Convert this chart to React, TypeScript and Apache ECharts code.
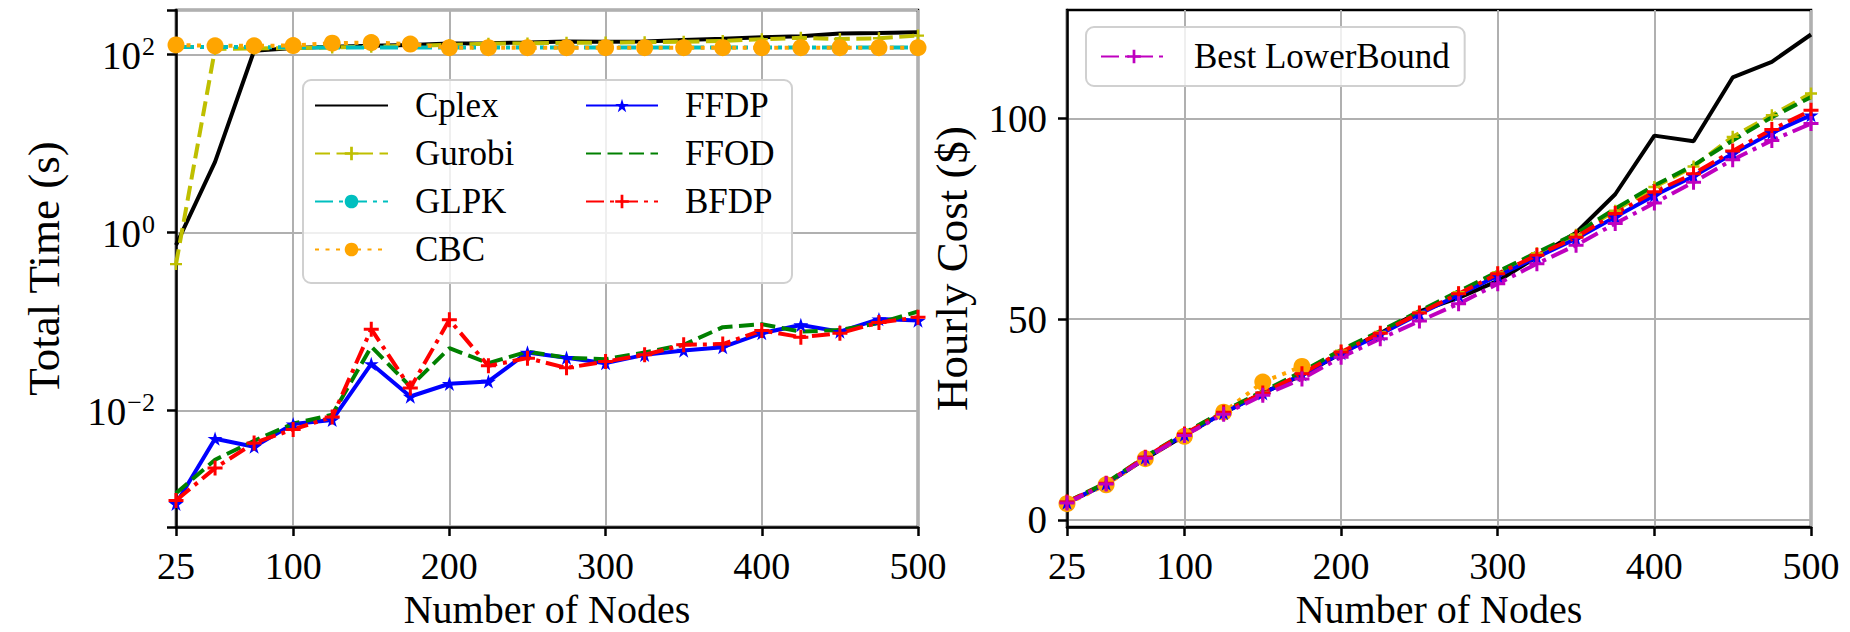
import React, { useEffect, useRef } from 'react';
import * as echarts from 'echarts';

const nodes = [25, 50, 75, 100, 125, 150, 175, 200, 225, 250, 275, 300, 325, 350, 375, 400, 425, 450, 475, 500];
const xTicks = [25, 100, 200, 300, 400, 500];
const costTicks = [0, 50, 100];

// Total time (s), left panel
const timeCplex = [0.72, 6.2, 110, 118, 122, 125, 128, 133, 134, 136, 140, 139, 140, 145, 150, 156, 160, 172, 174, 178];
const timeGurobi = [0.44, 115, 117, 118, 120, 122, 125, 128, 132, 133, 135, 136, 137, 139, 142, 148, 154, 149, 152, 163];
const timeGLPK = [121, 121, 121, 120, 120, 120, 120, 120, 120, 120, 120, 120, 120, 120, 120, 120, 120, 120, 120, 120];
const timeCBC = [128, 125, 125, 126, 134, 136, 131, 119, 119, 119, 119, 119, 119, 119, 119, 119, 119, 119, 119, 119];
const timeFFDP = [0.00089, 0.0048, 0.0039, 0.007, 0.0078, 0.0333, 0.0143, 0.0199, 0.0211, 0.0447, 0.039, 0.0339, 0.042, 0.047, 0.0513, 0.0736, 0.091, 0.0767, 0.106, 0.102];
const timeFFOD = [0.00117, 0.00278, 0.00454, 0.0071, 0.0089, 0.052, 0.0185, 0.05, 0.0339, 0.0457, 0.039, 0.0376, 0.0447, 0.0545, 0.086, 0.093, 0.0767, 0.08, 0.0955, 0.129];
const timeBFDP = [0.00097, 0.00224, 0.0043, 0.0061, 0.0084, 0.0817, 0.0178, 0.104, 0.0316, 0.0386, 0.03, 0.0353, 0.042, 0.0545, 0.0555, 0.0789, 0.0664, 0.0736, 0.097, 0.111];

// Hourly cost ($), right panel
const costCplex = [4.2, 8.9, 15.2, 21.0, 26.7, 31.6, 36.0, 41.5, 46.5, 51.9, 55.3, 59.5, 65.5, 71.5, 81.1, 95.7, 94.3, 110.2, 114.1, 120.9];
const costGurobi = [4.4, 9.1, 15.6, 21.5, 27.0, 31.8, 36.7, 42.1, 46.8, 51.8, 56.7, 61.6, 66.4, 71.0, 77.0, 82.9, 88.0, 95.4, 100.8, 106.2];
const costGLPK = [4.3, 9.0, 15.5, 21.3, 26.7];
const costCBC = [4.0, 8.7, 15.2, 20.8, 26.8, 34.3, 38.2];
const costFFDP = [4.3, 9.0, 15.5, 21.2, 26.6, 31.5, 36.2, 41.5, 46.2, 51.3, 56.0, 60.8, 65.4, 70.0, 75.4, 80.8, 85.6, 91.2, 96.4, 100.8];
const costFFOD = [4.5, 9.2, 15.7, 21.6, 27.1, 32.0, 36.9, 42.3, 47.0, 52.0, 56.9, 61.8, 66.6, 71.3, 77.5, 83.3, 88.3, 94.5, 100.3, 105.3];
const costBFDP = [4.4, 9.1, 15.6, 21.4, 26.8, 31.6, 36.4, 41.8, 46.5, 51.5, 56.3, 61.3, 65.9, 70.4, 76.3, 81.7, 86.2, 91.9, 97.2, 102.0];
const costLower = [4.2, 8.9, 15.3, 21.0, 26.3, 31.0, 35.1, 40.5, 45.1, 49.5, 53.8, 58.8, 63.8, 68.4, 73.8, 78.9, 84.1, 89.7, 94.5, 98.7];

const FONT = 'Liberation Serif';
const PLUS = 'path://M4,0H6V4H10V6H6V10H4V6H0V4H4Z';
const STAR = 'path://M10,0L12.245,6.91L19.51,6.91L13.63,11.18L15.88,18.09L10,13.82L4.12,18.09L6.37,11.18L0.49,6.91L7.755,6.91Z';
const DASH = [15, 6.5];
const DASHDOT = [18, 6, 4, 6];
const DOT = [4, 6.5];

type Sty = { color: string; type: any; symbol: string; size: any; noMarker?: boolean };
const styles: Record<string, Sty> = {
  Cplex: { color: '#000000', type: 'solid', symbol: 'circle', size: 0, noMarker: true },
  Gurobi: { color: '#bfbf00', type: DASH, symbol: PLUS, size: 12 },
  GLPK: { color: '#00bfbf', type: DASHDOT, symbol: 'circle', size: 7 },
  CBC: { color: '#ffa500', type: DOT, symbol: 'circle', size: 17 },
  FFDP: { color: '#0000ff', type: 'solid', symbol: STAR, size: [15, 14.3] },
  FFOD: { color: '#008000', type: DASH, symbol: 'circle', size: 0, noMarker: true },
  BFDP: { color: '#ff0000', type: DASHDOT, symbol: PLUS, size: 15 },
  'Best LowerBound': { color: '#bf00bf', type: DASHDOT, symbol: PLUS, size: 15 },
};

function mk(name: string, vals: number[], idx: number) {
  const s = styles[name];
  return {
    type: 'line',
    name,
    xAxisIndex: idx,
    yAxisIndex: idx,
    data: vals.map((v, i) => [nodes[i], v]),
    showSymbol: !s.noMarker,
    symbol: s.symbol,
    symbolSize: s.noMarker ? 0 : s.size,
    itemStyle: { color: s.color },
    lineStyle: { color: s.color, width: 4, type: s.type },
    emphasis: { disabled: true },
    silent: true,
  };
}

const logLabel = (v: number) => {
  const e = Math.log10(v);
  const r = Math.round(e);
  if (Math.abs(e - r) > 1e-6 || r % 2 !== 0) return '';
  const s = r < 0 ? '\u2212' + -r : String(r);
  return `{b|10}{s|${s}}`;
};

const tickFont = { fontFamily: FONT, fontSize: 39, color: '#000' };
const xTickFont = { fontFamily: FONT, fontSize: 38, lineHeight: 32, color: '#000' };
const nameFont = { fontFamily: FONT, fontSize: 45, color: '#000' };
const xNameFont = { fontFamily: FONT, fontSize: 40, lineHeight: 40, color: '#000' };
const legendText = { fontFamily: FONT, fontSize: 35, color: '#000', padding: [0, 0, 0, 22] };
const gridLine = { show: true, lineStyle: { color: '#b0b0b0', width: 2 } };
const tick = { show: true, length: 9, lineStyle: { color: '#000', width: 2.5 } };
const axisLine = { show: true, onZero: false, lineStyle: { color: '#000', width: 2.5 } };

function legendItems(names: string[]) {
  return names.map((n) =>
    styles[n].noMarker ? { name: n, itemStyle: { color: 'rgba(0,0,0,0)', opacity: 0, borderWidth: 0 } } : { name: n }
  );
}

export default function App() {
  const ref = useRef<HTMLDivElement>(null);
  useEffect(() => {
    const chart = echarts.init(ref.current!, null, { renderer: 'svg' });
    const xAxisBase = (gi: number) => ({
      type: 'value',
      gridIndex: gi,
      min: 25,
      max: 500,
      name: 'Number of Nodes',
      nameLocation: 'middle',
      nameGap: 62,
      nameMoveOverlap: false,
      nameTextStyle: xNameFont,
      axisLine,
      axisTick: { ...tick, customValues: xTicks },
      axisLabel: { ...xTickFont, margin: 23, customValues: xTicks },
      splitLine: gridLine,
    });
    const gridBase = { top: 10, height: 517, show: true, borderColor: '#000', borderWidth: 2.5, containLabel: false, outerBoundsMode: 'none' };
    const option: any = {
      animation: false,
      backgroundColor: '#ffffff',
      grid: [
        { ...gridBase, left: 176, width: 742 },
        { ...gridBase, left: 1067, width: 744 },
      ],
      xAxis: [xAxisBase(0), xAxisBase(1)],
      yAxis: [
        {
          type: 'log',
          logBase: 100,
          gridIndex: 0,
          min: 0.000488,
          max: 316,
          name: 'Total Time (s)',
          nameLocation: 'middle',
          nameGap: 110,
          nameTextStyle: nameFont,
          axisLine,
          axisTick: tick,
          minorTick: { show: false },
          axisLabel: {
            margin: 21,
            formatter: logLabel,
            rich: {
              b: { ...tickFont, lineHeight: 42, verticalAlign: 'bottom' },
              s: { ...tickFont, fontSize: 26, lineHeight: 42, verticalAlign: 'top', padding: [0, 0, 0, 1] },
            },
          },
          splitLine: gridLine,
        },
        {
          type: 'value',
          gridIndex: 1,
          min: -1.8,
          max: 127,
          name: 'Hourly Cost ($)',
          nameLocation: 'middle',
          nameGap: 93,
          nameTextStyle: nameFont,
          axisLine,
          axisTick: { ...tick, customValues: costTicks },
          axisLabel: { ...tickFont, margin: 20, customValues: costTicks },
          splitLine: gridLine,
        },
      ],
      legend: [
        {
          data: legendItems(['Cplex', 'Gurobi', 'GLPK', 'CBC']),
          orient: 'vertical',
          left: 314,
          top: 88,
          padding: 0,
          itemWidth: 73,
          itemHeight: 17,
          itemGap: 13,
          selectedMode: false,
          textStyle: legendText,
          z: 10,
        },
        {
          data: legendItems(['FFDP', 'FFOD', 'BFDP']),
          orient: 'vertical',
          left: 585,
          top: 88,
          padding: 0,
          itemWidth: 72,
          itemHeight: 17,
          itemGap: 13,
          selectedMode: false,
          textStyle: legendText,
          z: 10,
        },
        {
          data: legendItems(['Best LowerBound']),
          orient: 'vertical',
          left: 1086,
          top: 27,
          padding: [12, 15, 12, 14],
          backgroundColor: 'rgba(255,255,255,0.8)',
          borderColor: '#d0d0d0',
          borderWidth: 2,
          borderRadius: 8,
          itemWidth: 66,
          itemHeight: 17,
          selectedMode: false,
          textStyle: legendText,
          z: 10,
        },
      ],
      graphic: [
        {
          type: 'rect',
          z: 8,
          silent: true,
          shape: { x: 303, y: 80, width: 489, height: 203, r: 8 },
          style: { fill: 'rgba(255,255,255,0.8)', stroke: '#d0d0d0', lineWidth: 2 },
        },
      ],
      series: [
        mk('Cplex', timeCplex, 0),
        mk('Gurobi', timeGurobi, 0),
        mk('GLPK', timeGLPK, 0),
        mk('CBC', timeCBC, 0),
        mk('FFDP', timeFFDP, 0),
        mk('FFOD', timeFFOD, 0),
        mk('BFDP', timeBFDP, 0),
        mk('Cplex', costCplex, 1),
        mk('Gurobi', costGurobi, 1),
        mk('GLPK', costGLPK, 1),
        mk('CBC', costCBC, 1),
        mk('FFDP', costFFDP, 1),
        mk('FFOD', costFFOD, 1),
        mk('BFDP', costBFDP, 1),
        mk('Best LowerBound', costLower, 1),
      ],
    };
    chart.setOption(option);
    return () => chart.dispose();
  }, []);
  return <div ref={ref} style={{ position: 'absolute', left: 0, top: 0, width: 1850, height: 632 }} />;
}
